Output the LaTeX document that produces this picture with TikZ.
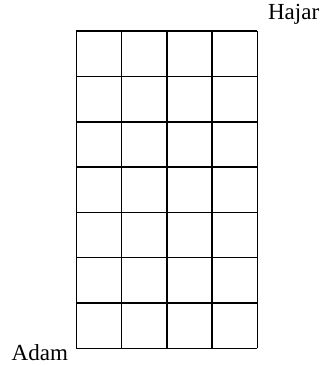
\documentclass[tikz,border=0pt]{standalone}
\usepackage{fontspec}
\setmainfont{Liberation Serif}
\usetikzlibrary{positioning}

\tikzset{
	gridline/.style={black, line width=1.5pt},
	namelabel/.style={inner sep=0pt, font=\fontsize{23}{27}\selectfont},
}

\begin{document}
\begin{tikzpicture}[x=45.3pt, y=45.3pt]

		% fixed frame, same proportions as the reference
		\useasboundingbox (-1.684,-0.391) rectangle (5.468,7.689);

		% ================= grid of 4 x 7 squares =================
		\coordinate (SW) at (0,0); % corner at Adam
		\coordinate (NE) at (4,7); % corner at Hajar

		% vertical lines
		\foreach \i in {0,...,4}{
			\draw[gridline] (\i,0) -- (\i,7);
		}
		% horizontal lines
		\foreach \j in {0,...,7}{
			\draw[gridline] (0,\j) -- (4,\j);
		}

		% ================= corner names =================
		\node[namelabel, anchor=base west] (hajar) at (4.23,7.25) {Hajar};
		\node[namelabel, anchor=base west] (adam) at (-1.43,-0.27) {Adam};

	\end{tikzpicture}
\end{document}
